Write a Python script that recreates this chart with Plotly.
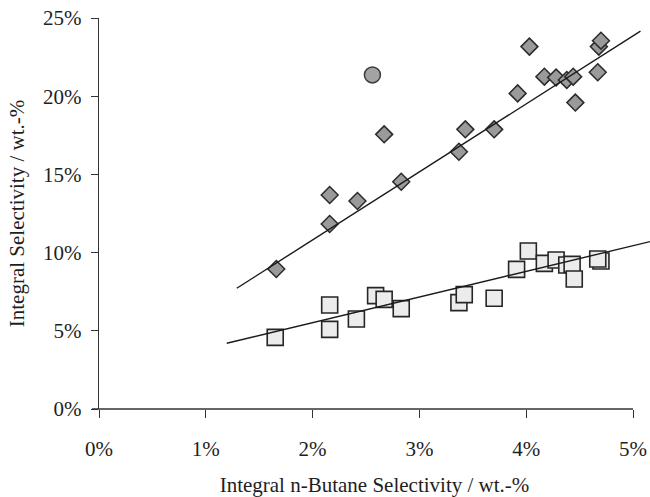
import plotly.graph_objects as go

# Integral n-butane selectivity (wt.-%) vs. integral selectivity (wt.-%)
x_diamond = [1.66, 2.16, 2.16, 2.42, 2.67, 2.83, 3.37, 3.43, 3.70, 3.92,
             4.03, 4.17, 4.28, 4.38, 4.44, 4.46, 4.67, 4.68, 4.70]
y_diamond = [8.95, 11.83, 13.68, 13.30, 17.56, 14.53, 16.45, 17.88, 17.88, 20.18,
             23.17, 21.25, 21.19, 21.04, 21.25, 19.59, 21.53, 23.17, 23.55]

x_circle = [2.56]
y_circle = [21.36]

x_square = [1.65, 2.16, 2.16, 2.41, 2.59, 2.67, 2.83, 3.37, 3.42, 3.70,
            3.91, 4.02, 4.17, 4.28, 4.38, 4.43, 4.45, 4.70, 4.67]
y_square = [4.58, 6.65, 5.09, 5.75, 7.25, 7.01, 6.42, 6.80, 7.31, 7.08,
            8.93, 10.10, 9.31, 9.53, 9.21, 9.25, 8.31, 9.46, 9.59]

# Linear trend lines: slope, intercept and drawn x extent
trend_upper = dict(slope=4.35, intercept=2.11, x_from=1.29, x_to=5.07)
trend_lower = dict(slope=1.64, intercept=2.24, x_from=1.196, x_to=5.16)

x_ticks = [0, 1, 2, 3, 4, 5]
y_ticks = [0, 5, 10, 15, 20, 25]

FONT = "Liberation Serif, Times New Roman, serif"
INK = "#1e1e1e"


def trend_xy(t):
    xs = [t["x_from"], t["x_to"]]
    ys = [t["slope"] * v + t["intercept"] for v in xs]
    return xs, ys


fig = go.Figure()

fig.add_trace(go.Scatter(
    x=x_square, y=y_square, mode="markers",
    marker=dict(symbol="square", size=16, color="#ececec",
                line=dict(color="#262626", width=1.6)),
    showlegend=False, cliponaxis=False))

fig.add_trace(go.Scatter(
    x=x_diamond, y=y_diamond, mode="markers",
    marker=dict(symbol="diamond", size=13, color="#9a9a9a",
                line=dict(color="#2a2a2a", width=1.5)),
    showlegend=False, cliponaxis=False))

fig.add_trace(go.Scatter(
    x=x_circle, y=y_circle, mode="markers",
    marker=dict(symbol="circle", size=16, color="#a3a3a3",
                line=dict(color="#3a3a3a", width=1.5)),
    showlegend=False, cliponaxis=False))

for t in (trend_upper, trend_lower):
    tx, ty = trend_xy(t)
    fig.add_trace(go.Scatter(
        x=tx, y=ty, mode="lines",
        line=dict(color="#1a1a1a", width=1.4),
        showlegend=False, hoverinfo="skip"))

W, H = 650, 497
ML, MR, MT, MB = 99, 0, 18, 88
px_per_unit = 106.8
x_max = (W - ML - MR) / px_per_unit
plot_w = W - ML - MR

fig.update_layout(
    width=W, height=H,
    margin=dict(l=ML, r=MR, t=MT, b=MB, autoexpand=False),
    paper_bgcolor="white", plot_bgcolor="white",
    font=dict(family=FONT, size=21, color=INK),
    xaxis=dict(
        range=[0, x_max], showgrid=False, zeroline=False, showline=False,
        tickmode="array", tickvals=x_ticks,
        ticktext=[f"{v}%" for v in x_ticks],
        ticks="outside", ticklen=8, tickwidth=1.4, tickcolor="#333333",
        ticklabelstandoff=13,
        title=dict(text="Integral n-Butane Selectivity / wt.-%",
                   standoff=17, font=dict(size=21)),
        automargin=False,
    ),
    yaxis=dict(
        range=[0, 25], showgrid=False, zeroline=False,
        showline=True, linecolor="#333333", linewidth=1.4,
        tickmode="array", tickvals=y_ticks,
        ticktext=[f"{v}%" for v in y_ticks],
        ticks="outside", ticklen=7, tickwidth=1.4, tickcolor="#333333",
        ticklabelstandoff=5,
        title=dict(text="Integral Selectivity / wt.-%", standoff=12,
                   font=dict(size=21)),
        automargin=False,
    ),
)

# x axis baseline from just left of the y axis to the 5% tick
fig.add_shape(type="line", xref="paper", yref="paper",
              x0=-7 / plot_w, x1=5 * px_per_unit / plot_w, y0=0, y1=0,
              line=dict(color="#333333", width=1.4))

fig.write_html("out.html")
